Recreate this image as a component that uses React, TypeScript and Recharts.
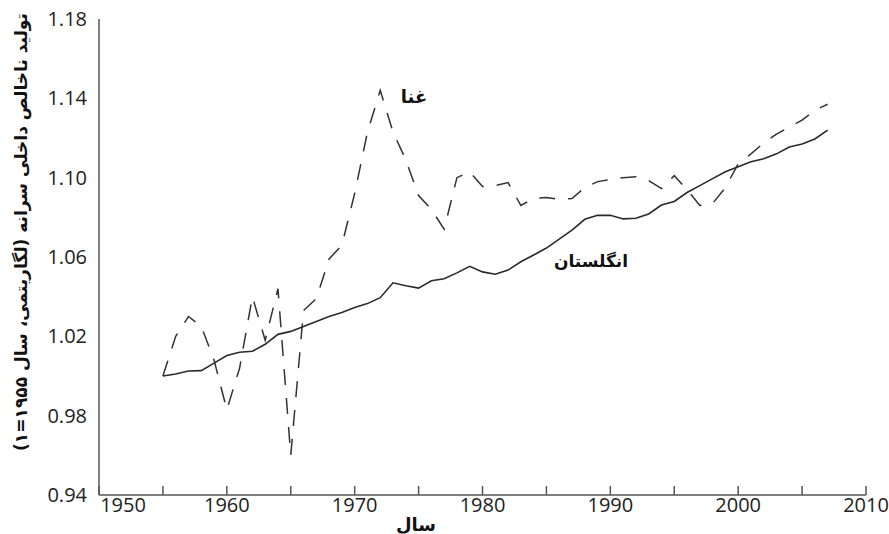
import { LineChart, Line, XAxis, YAxis } from 'recharts'

const years = [
  1955, 1956, 1957, 1958, 1959, 1960, 1961, 1962, 1963, 1964, 1965, 1966, 1967, 1968, 1969,
  1970, 1971, 1972, 1973, 1974, 1975, 1976, 1977, 1978, 1979, 1980, 1981, 1982, 1983, 1984,
  1985, 1986, 1987, 1988, 1989, 1990, 1991, 1992, 1993, 1994, 1995, 1996, 1997, 1998, 1999,
  2000, 2001, 2002, 2003, 2004, 2005, 2006, 2007,
]

// انگلستان (solid)
const englandGdp = [
  1.0, 1.001, 1.0025, 1.0027, 1.0065, 1.0103, 1.012, 1.0125, 1.016, 1.021, 1.0225, 1.025,
  1.0275, 1.03, 1.032, 1.0345, 1.0365, 1.0395, 1.047, 1.0455, 1.0443, 1.048, 1.049, 1.052,
  1.0553, 1.0525, 1.0513, 1.0534, 1.0576, 1.061, 1.0645, 1.069, 1.0735, 1.079, 1.081, 1.081,
  1.0792, 1.0795, 1.0817, 1.0862, 1.088, 1.0925, 1.096, 1.0995, 1.103, 1.1055, 1.108, 1.1095,
  1.112, 1.1155, 1.117, 1.1195, 1.124,
]

// غنا (dashed)
const ghanaGdp = [
  1.0, 1.02, 1.03, 1.025, 1.008, 0.983, 1.004, 1.04, 1.018, 1.044, 0.96, 1.033, 1.039, 1.059,
  1.066, 1.092, 1.123, 1.144, 1.123, 1.109, 1.091, 1.084, 1.074, 1.1, 1.103, 1.0955, 1.096,
  1.0975, 1.086, 1.0895, 1.09, 1.089, 1.0895, 1.095, 1.098, 1.099, 1.1, 1.1005, 1.0985,
  1.0945, 1.101, 1.094, 1.086, 1.087, 1.095, 1.107, 1.112, 1.1175, 1.122, 1.1255, 1.129,
  1.134, 1.137,
]

const xTicks = [1950, 1955, 1960, 1965, 1970, 1975, 1980, 1985, 1990, 1995, 2000, 2005, 2010]
const yTicks = [0.94, 0.98, 1.02, 1.06, 1.1, 1.14, 1.18]

const data = years.map((year, i) => ({ year, england: englandGdp[i], ghana: ghanaGdp[i] }))

const tickFont = { fontFamily: '"Open Sans", sans-serif', fontSize: 20, fill: '#222' }
const faFont = '"DejaVu Sans", "Noto Sans", sans-serif'
const axisColor = '#555'

function YearTick({ x, y, payload }: { x?: number; y?: number; payload?: { value: number } }) {
  const v = payload?.value ?? 0
  if (v % 10 !== 0) return null
  // first label sits a bit right of its tick in the original
  const dx = v === 1950 ? 24 : 0
  return (
    <text x={(x ?? 0) + dx} y={y} dy="0.71em" textAnchor="middle" {...tickFont}>
      {v}
    </text>
  )
}

export default function App() {
  return (
    <div style={{ position: 'absolute', left: 0, top: 0, width: 889, height: 534, background: '#fff' }}>
      <LineChart
        width={889}
        height={534}
        data={data}
        margin={{ top: 19, right: 23, bottom: 9, left: 39 }}
      >
        <XAxis
          dataKey="year"
          type="number"
          domain={[1950, 2010]}
          ticks={xTicks}
          interval={0}
          height={30}
          tickSize={-9}
          tickMargin={12}
          stroke={axisColor}
          strokeWidth={1.5}
          tick={<YearTick />}
        />
        <XAxis
          xAxisId="top"
          orientation="top"
          type="number"
          domain={[1950, 2010]}
          height={0}
          tick={false}
          tickLine={false}
          stroke={axisColor}
          strokeWidth={1.5}
        />
        <YAxis
          type="number"
          domain={[0.94, 1.18]}
          ticks={yTicks}
          interval={0}
          width={60}
          tickLine={false}
          tickSize={0}
          tickMargin={12}
          stroke={axisColor}
          strokeWidth={1.5}
          tick={tickFont}
          tickFormatter={(v: number) => v.toFixed(2)}
        />
        <YAxis
          yAxisId="right"
          orientation="right"
          type="number"
          domain={[0.94, 1.18]}
          width={0}
          tick={false}
          tickLine={false}
          stroke={axisColor}
          strokeWidth={1.5}
        />
        <Line
          type="linear"
          dataKey="ghana"
          stroke="#333"
          strokeWidth={1.5}
          strokeDasharray="16 13"
          dot={false}
          isAnimationActive={false}
        />
        <Line
          type="linear"
          dataKey="england"
          stroke="#2a2a2a"
          strokeWidth={1.6}
          dot={false}
          isAnimationActive={false}
        />
      </LineChart>

      <div
        style={{
          position: 'absolute', left: 414, top: 96, transform: 'translate(-50%, -50%)',
          fontFamily: faFont, fontWeight: 'bold', fontSize: 18, color: '#111',
          direction: 'rtl', whiteSpace: 'nowrap',
        }}
      >
        غنا
      </div>
      <div
        style={{
          position: 'absolute', left: 591, top: 261, transform: 'translate(-50%, -50%)',
          fontFamily: faFont, fontWeight: 'bold', fontSize: 17, color: '#111',
          direction: 'rtl', whiteSpace: 'nowrap',
        }}
      >
        انگلستان
      </div>
      <div
        style={{
          position: 'absolute', left: 416, top: 524, transform: 'translate(-50%, -50%)',
          fontFamily: faFont, fontWeight: 'bold', fontSize: 18, color: '#111',
          direction: 'rtl', whiteSpace: 'nowrap',
        }}
      >
        سال
      </div>
      <div
        style={{
          position: 'absolute', left: 21, top: 232, transform: 'translate(-50%, -50%) rotate(-90deg)',
          fontFamily: faFont, fontWeight: 'bold', fontSize: 17, color: '#111',
          direction: 'rtl', whiteSpace: 'nowrap',
        }}
      >
        تولید ناخالص داخلی سرانه (لگاریتمی، سال ۱۹۵۵=۱)
      </div>
    </div>
  )
}
